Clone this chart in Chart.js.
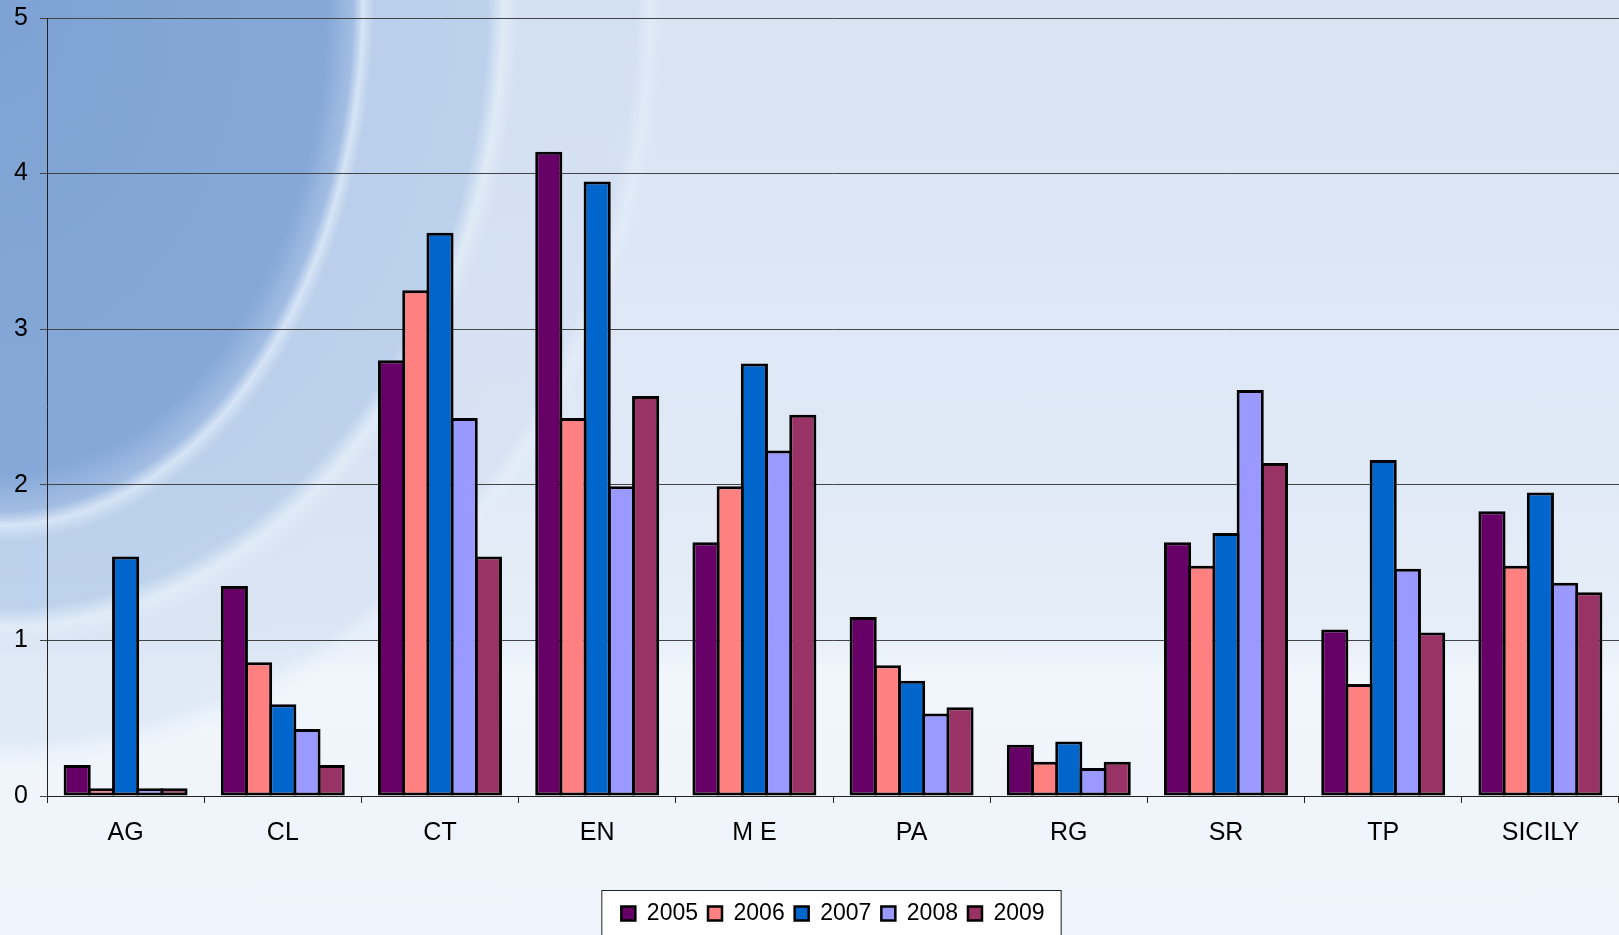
<!DOCTYPE html>
<html>
<head>
<meta charset="utf-8">
<script src="https://cdn.jsdelivr.net/npm/chart.js@4"></script>
<style>
  html, body { margin: 0; padding: 0; }
  body {
    width: 1619px; height: 935px; overflow: hidden;
    background:
      radial-gradient(ellipse 380px 550px at 0 0, #7ea2d3 0%, #85a8d8 86%, #a2bde3 93%, #d6e4f5 95.5%, rgba(190,210,236,0) 98.5%),
      radial-gradient(ellipse 530px 660px at 0 0, rgba(172,197,230,0.9) 0%, rgba(182,205,234,0.8) 92%, rgba(225,236,248,0.9) 95%, rgba(200,218,240,0) 98%),
      radial-gradient(ellipse 670px 780px at 0 0, rgba(200,216,238,0.55) 0%, rgba(205,220,240,0.45) 95%, rgba(230,240,250,0.5) 97%, rgba(220,232,246,0) 99%),
      linear-gradient(180deg, #d8e4f4 0%, #e0e9f6 50%, #e6eef8 68%, #f1f6fc 72%, #eef4fb 100%);
  }
  #wrap { position: absolute; left: 0; top: 0; width: 1619px; height: 935px; }
</style>
</head>
<body>
<div id="wrap"><canvas id="chart"></canvas></div>
<script>
const categories = ['AG', 'CL', 'CT', 'EN', 'M E', 'PA', 'RG', 'SR', 'TP', 'SICILY'];
const years = ['2005', '2006', '2007', '2008', '2009'];
const yTicks = [0, 1, 2, 3, 4, 5];

const v2005 = [0.20, 1.35, 2.80, 4.14, 1.63, 1.15, 0.33, 1.63, 1.07, 1.83];
const v2006 = [0.05, 0.86, 3.25, 2.43, 1.99, 0.84, 0.22, 1.48, 0.72, 1.48];
const v2007 = [1.54, 0.59, 3.62, 3.95, 2.78, 0.74, 0.35, 1.69, 2.16, 1.95];
const v2008 = [0.05, 0.43, 2.43, 1.99, 2.22, 0.53, 0.18, 2.61, 1.46, 1.37];
const v2009 = [0.05, 0.20, 1.54, 2.57, 2.45, 0.57, 0.22, 2.14, 1.05, 1.31];

const colors = ['#660066', '#ff8080', '#0066cc', '#9999ff', '#993366'];
const values = [v2005, v2006, v2007, v2008, v2009];

// white box around the legend items
const legendBox = {
    id: 'legendBox',
    beforeDraw(chart) {
        const boxes = chart.legend && chart.legend.legendHitBoxes;
        if (!boxes || !boxes.length) return;
        const ctx = chart.ctx;
        const left = boxes[0].left - 20;
        const last = boxes[boxes.length - 1];
        const right = last.left + last.width + 16;
        const top = boxes[0].top - 12;
        ctx.save();
        ctx.fillStyle = '#ffffff';
        ctx.fillRect(left, top, right - left, 60);
        ctx.strokeStyle = '#222';
        ctx.lineWidth = 1;
        ctx.strokeRect(left + 0.5, top + 0.5, right - left, 60);
        ctx.restore();
    }
};

Chart.defaults.font.family = 'Arial, "Liberation Sans", sans-serif';
Chart.defaults.color = '#000';

const ctx = document.getElementById('chart').getContext('2d');
const chart = new Chart(ctx, {
    type: 'bar',
    data: {
        labels: categories,
        datasets: years.map((y, i) => ({
            label: y,
            data: values[i],
            backgroundColor: colors[i],
            borderColor: '#000',
            borderWidth: 3,
            borderSkipped: false,
            categoryPercentage: 0.77,
            barPercentage: 1.12
        }))
    },
    options: {
        responsive: true,
        maintainAspectRatio: false,
        animation: false,
        layout: { padding: 0 },
        plugins: {
            legend: {
                position: 'bottom',
                fullSize: false,
                labels: {
                    font: { size: 23 },
                    boxWidth: 14,
                    boxHeight: 14,
                    padding: 10,
                    generateLabels(chart) {
                        return chart.data.datasets.map((ds, i) => ({
                            text: ds.label,
                            fillStyle: ds.backgroundColor,
                            strokeStyle: '#000',
                            lineWidth: 2.5,
                            datasetIndex: i
                        }));
                    }
                }
            },
            tooltip: { enabled: false }
        },
        scales: {
            x: {
                afterFit(scale) { scale.height = 96; },
                grid: {
                    drawOnChartArea: false,
                    drawTicks: true,
                    tickLength: 7,
                    color: '#222'
                },
                border: { color: '#222', width: 1 },
                ticks: { font: { size: 25 }, padding: 15 }
            },
            y: {
                min: 0,
                max: 5,
                afterBuildTicks(scale) { scale.ticks = yTicks.map(v => ({ value: v })); },
                afterFit(scale) {
                    scale.width = 47;
                    scale.paddingTop = 18;
                    scale.paddingBottom = 0;
                },
                grid: { color: '#444', lineWidth: 1, tickLength: 7 },
                border: { color: '#222', width: 1 },
                ticks: { font: { size: 25, lineHeight: 1 }, padding: 12 }
            }
        }
    },
    plugins: [legendBox]
});
</script>
</body>
</html>
